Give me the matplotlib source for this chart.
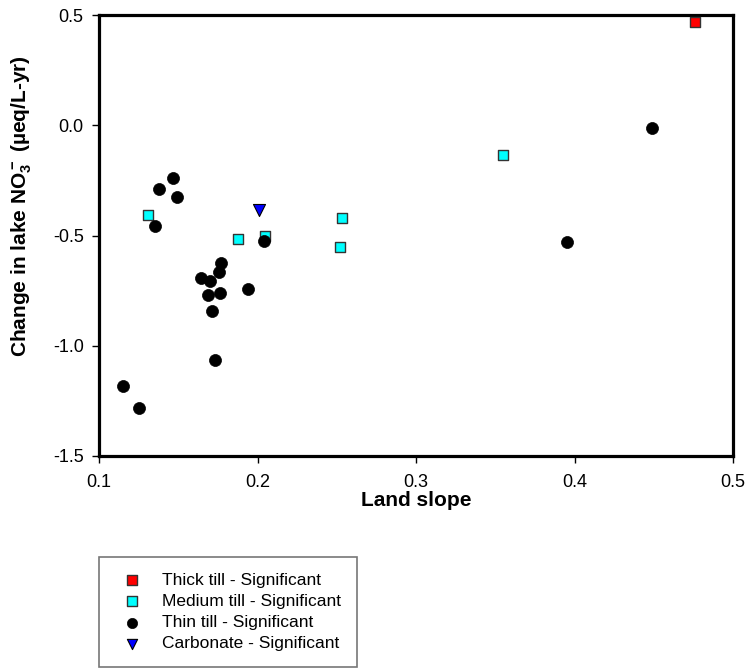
import matplotlib
matplotlib.use("Agg")
import matplotlib.pyplot as plt

plt.rcParams["font.family"] = ["Liberation Sans", "DejaVu Sans"]
plt.rcParams["axes.unicode_minus"] = False
plt.rcParams["mathtext.fontset"] = "custom"
plt.rcParams["mathtext.rm"] = "Liberation Sans:bold"
plt.rcParams["mathtext.bf"] = "Liberation Sans:bold"
plt.rcParams["mathtext.default"] = "rm"

# Land slope vs. change in lake nitrate, grouped by till class
thick_x = [0.476]
thick_y = [0.47]

medium_x = [0.131, 0.188, 0.205, 0.253, 0.252, 0.355]
medium_y = [-0.405, -0.516, -0.50, -0.422, -0.552, -0.136]

thin_x = [0.449, 0.395, 0.147, 0.138, 0.149, 0.1355, 0.204, 0.177, 0.1756,
          0.1643, 0.170, 0.194, 0.1762, 0.169, 0.1712, 0.1735, 0.115, 0.1254]
thin_y = [-0.011, -0.531, -0.239, -0.289, -0.327, -0.456, -0.526, -0.626, -0.665,
          -0.691, -0.708, -0.743, -0.762, -0.77, -0.841, -1.065, -1.181, -1.282]

carb_x = [0.201]
carb_y = [-0.384]

x_ticks = [0.1, 0.2, 0.3, 0.4, 0.5]
y_ticks = [-1.5, -1.0, -0.5, 0.0, 0.5]

fig = plt.figure(figsize=(7.46, 6.69), dpi=100)
ax = fig.add_axes([99 / 746, 1 - 456 / 669, (733 - 99) / 746, (456 - 15) / 669])

ax.scatter(thick_x, thick_y, marker="s", s=60, color="#FF0000", edgecolors="#333333",
           linewidths=1.0, label="Thick till - Significant", zorder=3)
ax.scatter(medium_x, medium_y, marker="s", s=60, color="#00FFFF", edgecolors="#333333",
           linewidths=1.0, label="Medium till - Significant", zorder=3)
ax.scatter(thin_x, thin_y, marker="o", s=75, color="black", edgecolors="black",
           linewidths=0.5, label="Thin till - Significant", zorder=4)
ax.scatter(carb_x, carb_y, marker="v", s=75, color="#0000FF", edgecolors="black",
           linewidths=0.8, label="Carbonate - Significant", zorder=3)

ax.set_xlim(0.1, 0.5)
ax.set_ylim(-1.5, 0.5)
ax.set_xticks(x_ticks)
ax.set_xticklabels([f"{v:.1f}" for v in x_ticks])
ax.set_yticks(y_ticks)
ax.set_yticklabels([f"{v:.1f}" for v in y_ticks])
ax.tick_params(direction="out", length=5, width=1, labelsize=13)
ax.tick_params(axis="x", pad=8)
ax.tick_params(axis="y", pad=6)

for sp in ax.spines.values():
    sp.set_linewidth(2.3)
    sp.set_color("black")

ax.set_xlabel("Land slope", fontsize=15, fontweight="bold", labelpad=0)
ax.set_ylabel(r"Change in lake NO$_3^-$ (µeq/L-yr)", fontsize=15, fontweight="bold")
ax.yaxis.set_label_coords(-0.102, 0.567)

leg = fig.legend(loc="upper left", bbox_to_anchor=(99 / 746, 1 - 557 / 669),
                 frameon=True, fancybox=False, fontsize=12.5, handletextpad=0.8,
                 borderpad=0.9, labelspacing=0.35, borderaxespad=0,
                 handlelength=1.95, markerscale=0.85, edgecolor="#555555")
leg.get_frame().set_linewidth(1.2)

fig.savefig("out.png", dpi=100)
